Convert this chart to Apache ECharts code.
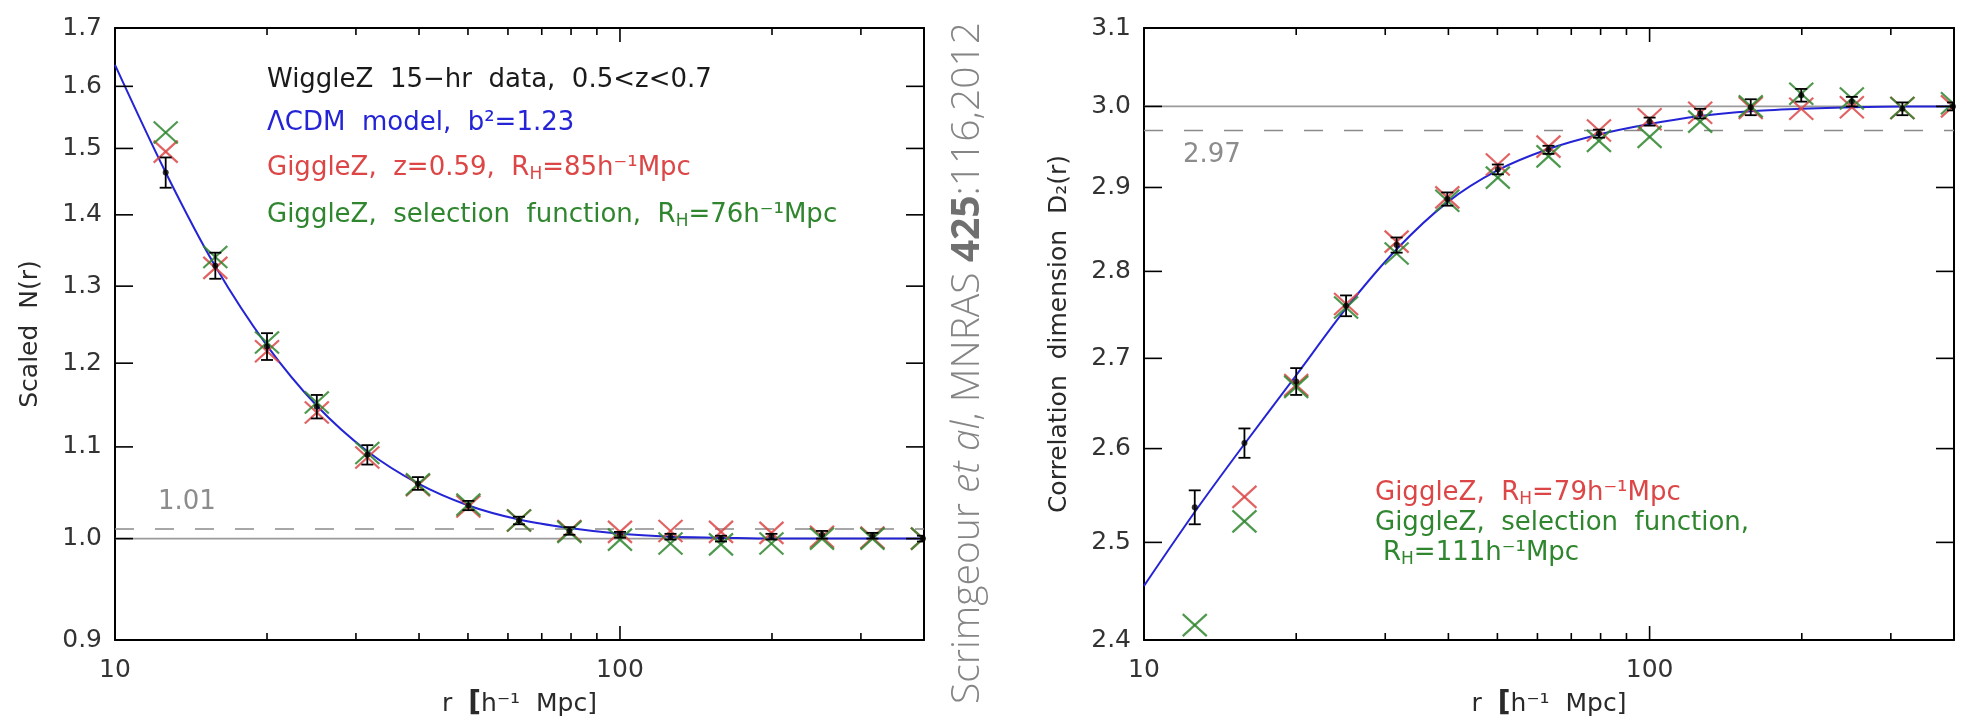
<!DOCTYPE html>
<html><head><meta charset="utf-8">
<script src="https://cdn.jsdelivr.net/npm/echarts@6/dist/echarts.min.js"></script>
<style>html,body{margin:0;padding:0;background:#fff}#c{width:1966px;height:726px}</style>
</head><body><div id="c"></div>
<script>
// ---- data ----
const rVals = [12.6, 15.8, 20.0, 25.1, 31.6, 39.8, 50.1, 63.1, 79.4, 100, 125.9, 158.5, 199.5, 251.2, 316.2, 398.1];
const modelR = [10, 12.6, 15.8, 20.0, 25.1, 31.6, 39.8, 50.1, 63.1, 79.4, 100, 125.9, 158.5, 199.5, 251.2, 316.2, 398.1, 400];

// left panel: scaled N(r)
const leftBlack = [1.463, 1.328, 1.221, 1.147, 1.091, 1.059, 1.035, 1.019, 1.008, 1.004, 1.002, 1.000, 1.002, 1.004, 1.003, 1.000];
const leftErr   = [0.023, 0.018, 0.017, 0.014, 0.011, 0.007, 0.005, 0.004, 0.004, 0.003, 0.003, 0.003, 0.003, 0.004, 0.003, 0.003];
const leftRed   = [1.495, 1.325, 1.215, 1.140, 1.088, 1.057, 1.034, 1.019, 1.008, 1.007, 1.008, 1.007, 1.006, 1.002, 1.001, 1.000];
const leftGreen = [1.525, 1.340, 1.226, 1.152, 1.093, 1.058, 1.036, 1.019, 1.007, 0.999, 0.995, 0.994, 0.995, 1.000, 1.000, 1.000];
const leftModel = [1.636, 1.463, 1.327, 1.222, 1.148, 1.095, 1.059, 1.035, 1.020, 1.011, 1.005, 1.002, 1.001, 1.000, 1.000, 1.000, 1.000, 1.000];
const leftRef = [1.0, 1.01];
const leftTicks = [0.9, 1.0, 1.1, 1.2, 1.3, 1.4, 1.5, 1.6, 1.7];

// right panel: correlation dimension D2(r)
const rightBlack = [2.537, 2.606, 2.674, 2.760, 2.831, 2.886, 2.922, 2.946, 2.966, 2.981, 2.991, 2.999, 3.014, 3.006, 2.997, 3.000];
const rightErr   = [0.018, 0.016, 0.015, 0.012, 0.009, 0.008, 0.006, 0.005, 0.005, 0.005, 0.006, 0.010, 0.008, 0.006, 0.008, 0.005];
const rightRed   = [null, 2.548, 2.670, 2.762, 2.835, 2.888, 2.928, 2.950, 2.970, 2.984, 2.992, 2.998, 2.997, 2.999, 2.998, 3.000];
const rightGreen = [2.415, 2.522, 2.668, 2.758, 2.821, 2.884, 2.912, 2.938, 2.957, 2.962, 2.981, 3.000, 3.016, 3.010, 2.998, 3.004];
const rightModel = [2.455, 2.532, 2.605, 2.681, 2.757, 2.826, 2.882, 2.921, 2.947, 2.965, 2.978, 2.988, 2.994, 2.997, 2.999, 3.000, 3.000, 3.000];
const rightRef = [3.0, 2.97];
const rightTicks = [2.4, 2.5, 2.6, 2.7, 2.8, 2.9, 3.0, 3.1];

const majorX = [10, 100];
const minorX = [20, 30, 40, 50, 60, 70, 80, 90, 200, 300];
const xRange = [10, 400];

// ---- chart ----
const FONT = 'DejaVu Sans';
const RED = '#dc4646', GREEN = '#2f862f', BLUE = '#2424d6';
const chart = echarts.init(document.getElementById('c'), null, {renderer: 'canvas'});

const axLine = {show: true, lineStyle: {color: '#000', width: 2}};
const nameStyle = {fontFamily: FONT, fontSize: 25, color: '#2a2a2a',
  rich: {n: {fontFamily: FONT, fontSize: 25, color: '#2a2a2a'}, b: {fontFamily: FONT, fontSize: 28, fontWeight: 'bold', color: '#2a2a2a'}}};

function xAxes(g) {
  const base = {type: 'log', logBase: 10, min: xRange[0], max: xRange[1], gridIndex: g, splitLine: {show: false}, axisPointer: {show: false}, axisTick: {show: false}};
  return [
    Object.assign({}, base, {position: 'bottom', axisLine: axLine,
      axisLabel: {show: true, customValues: majorX, margin: 18, color: '#333', fontFamily: FONT, fontSize: 25},
      name: '{n|r  }{b|[}{n|h⁻¹  Mpc]}', nameLocation: 'middle', nameGap: 50, nameTextStyle: nameStyle}),
    Object.assign({}, base, {position: 'top', axisLine: axLine, axisLabel: {show: false}})
  ];
}
function yAxes(g, ticks, name) {
  const base = {type: 'log', logBase: 10, min: ticks[0], max: ticks[ticks.length - 1], gridIndex: g, splitLine: {show: false}, axisPointer: {show: false}, axisTick: {show: false}};
  return [
    Object.assign({}, base, {position: 'left', axisLine: axLine,
      axisLabel: {show: true, customValues: ticks, margin: 13, color: '#333', fontFamily: FONT, fontSize: 25, formatter: v => Number(v).toFixed(1)},
      name: name, nameLocation: 'middle', nameGap: 72, nameRotate: 90, nameTextStyle: nameStyle}),
    Object.assign({}, base, {position: 'right', axisLine: axLine, axisLabel: {show: false}})
  ];
}

function pairs(xs, ys) { return xs.map((x, i) => [x, ys[i]]).filter(d => d[1] != null); }

function seg(x1, y1, x2, y2, color, w, op) {
  return {type: 'line', shape: {x1: x1, y1: y1, x2: x2, y2: y2}, style: {stroke: color, lineWidth: w, opacity: op == null ? 1 : op}};
}

// inside tick marks: each tick value is a datum placed inside the plot, its screen position comes from
// the axis scale (api.coord) and the tick is drawn from the grid's edges (params.coordSys)
function xTickSeries(g, yTicks) {
  const yMid = yTicks[Math.floor(yTicks.length / 2)];
  const data = majorX.filter(v => v > xRange[0] && v < xRange[1]).map(v => [v, yMid, 14])
    .concat(minorX.map(v => [v, yMid, 7]));
  return {type: 'custom', xAxisIndex: g * 2, yAxisIndex: g * 2, clip: true, z: 6, data: data,
    renderItem(params, api) {
      const p = api.coord([api.value(0), api.value(1)]);
      const L = api.value(2);
      const cs = params.coordSys;
      const yb = cs.y + cs.height, yt = cs.y;
      return {type: 'group', children: [
        seg(p[0], yb, p[0], yb - L, '#000', 1.6),
        seg(p[0], yt, p[0], yt + L, '#000', 1.6)
      ]};
    }};
}
function yTickSeries(g, yTicks) {
  const xMid = 100;
  const lo = yTicks[0], hi = yTicks[yTicks.length - 1];
  const data = yTicks.filter(v => v > lo && v < hi).map(v => [xMid, v]);
  return {type: 'custom', xAxisIndex: g * 2, yAxisIndex: g * 2, clip: true, z: 6, data: data,
    renderItem(params, api) {
      const p = api.coord([api.value(0), api.value(1)]);
      const cs = params.coordSys;
      const xl = cs.x, xr = cs.x + cs.width;
      return {type: 'group', children: [
        seg(xl, p[1], xl + 18, p[1], '#000', 1.6),
        seg(xr, p[1], xr - 18, p[1], '#000', 1.6)
      ]};
    }};
}

function crossSeries(g, ys, color) {
  return {type: 'custom', xAxisIndex: g * 2, yAxisIndex: g * 2, clip: true, z: 3,
    data: pairs(rVals, ys),
    renderItem(params, api) {
      const p = api.coord([api.value(0), api.value(1)]);
      const sx = 12, sy = 11;
      return {type: 'group', children: [
        seg(p[0] - sx, p[1] - sy, p[0] + sx, p[1] + sy, color, 2.2, 0.85),
        seg(p[0] - sx, p[1] + sy, p[0] + sx, p[1] - sy, color, 2.2, 0.85)
      ]};
    }};
}
function errSeries(g, ys, es) {
  return {type: 'custom', xAxisIndex: g * 2, yAxisIndex: g * 2, clip: true, z: 4,
    data: rVals.map((x, i) => [x, ys[i], es[i]]),
    renderItem(params, api) {
      const x = api.value(0), y = api.value(1), e = api.value(2);
      const top = api.coord([x, y + e]), bot = api.coord([x, y - e]);
      const c = 6;
      return {type: 'group', children: [
        seg(top[0], top[1], bot[0], bot[1], '#000', 1.8),
        seg(top[0] - c, top[1], top[0] + c, top[1], '#000', 1.8),
        seg(bot[0] - c, bot[1], bot[0] + c, bot[1], '#000', 1.8)
      ]};
    }};
}
function panelSeries(g, black, err, red, green, model, ref, yTicks) {
  return [
    {type: 'line', xAxisIndex: g * 2, yAxisIndex: g * 2, data: [[xRange[0], ref[0]], [xRange[1], ref[0]]], showSymbol: false, silent: true, z: 1,
      lineStyle: {color: '#9a9a9a', width: 1.6}},
    {type: 'line', xAxisIndex: g * 2, yAxisIndex: g * 2, data: [[xRange[0], ref[1]], [xRange[1], ref[1]]], showSymbol: false, silent: true, z: 1,
      lineStyle: {color: '#8a8a8a', width: 1.6, type: [19, 21]}},
    {type: 'line', xAxisIndex: g * 2, yAxisIndex: g * 2, data: pairs(modelR, model), showSymbol: false, smooth: 0.3, silent: true, z: 2,
      lineStyle: {color: BLUE, width: 2}},
    crossSeries(g, red, RED),
    crossSeries(g, green, GREEN),
    errSeries(g, black, err),
    {type: 'scatter', xAxisIndex: g * 2, yAxisIndex: g * 2, data: pairs(rVals, black), symbol: 'circle', symbolSize: 6, silent: true, z: 5,
      itemStyle: {color: '#000'}},
    xTickSeries(g, yTicks),
    yTickSeries(g, yTicks)
  ];
}

const AF = 26;
function rich(color) {
  return {
    n: {fontFamily: FONT, fontSize: AF, fill: color, lineHeight: 30},
    s: {fontFamily: FONT, fontSize: 17, fill: color, lineHeight: 30, verticalAlign: 'bottom'}
  };
}
function label(x, y, text, color) {
  return {type: 'text', x: x, y: y, silent: true, z: 10,
    style: {text: text, rich: rich(color), fill: color, font: AF + 'px "DejaVu Sans"', align: 'left', verticalAlign: 'middle'}};
}

const graphics = [
  label(267, 80, '{n|WiggleZ  15−hr  data,  0.5<z<0.7}', '#1a1a1a'),
  label(267, 123, '{n|ΛCDM  model,  b²=1.23}', BLUE),
  label(267, 168, '{n|GiggleZ,  z=0.59,  R}{s|H}{n|=85h⁻¹Mpc}', RED),
  label(267, 215, '{n|GiggleZ,  selection  function,  R}{s|H}{n|=76h⁻¹Mpc}', GREEN),
  label(158, 502, '{n|1.01}', '#8c8c8c'),
  label(1183, 155, '{n|2.97}', '#8c8c8c'),
  label(1375, 493, '{n|GiggleZ,  R}{s|H}{n|=79h⁻¹Mpc}', RED),
  label(1375, 523, '{n|GiggleZ,  selection  function,}', GREEN),
  label(1383, 553, '{n|R}{s|H}{n|=111h⁻¹Mpc}', GREEN),
  {type: 'text', x: 968, y: 363, rotation: Math.PI / 2, silent: true,
    style: {text: '{n|Scrimgeour }{i|et al}{n|, MNRAS }{b|425}{n|:116,2012}', align: 'center', verticalAlign: 'middle',
      font: '39px "Open Sans"', fill: '#858585',
      rich: {
        n: {fontFamily: 'Open Sans', fontSize: 39, fontWeight: 300, fill: '#858585'},
        i: {fontFamily: 'Open Sans', fontSize: 39, fontWeight: 300, fontStyle: 'italic', fill: '#858585'},
        b: {fontFamily: 'Open Sans', fontSize: 39, fontWeight: 'bold', fill: '#707070'}
      }}}
];

chart.setOption({
  backgroundColor: '#fff',
  animation: false,
  grid: [
    {left: 115, right: 1042, top: 28, bottom: 86},
    {left: 1144, right: 12, top: 28, bottom: 86}
  ],
  xAxis: xAxes(0).concat(xAxes(1)),
  yAxis: yAxes(0, leftTicks, 'Scaled  N(r)').concat(yAxes(1, rightTicks, 'Correlation  dimension  D₂(r)')),
  series: panelSeries(0, leftBlack, leftErr, leftRed, leftGreen, leftModel, leftRef, leftTicks)
    .concat(panelSeries(1, rightBlack, rightErr, rightRed, rightGreen, rightModel, rightRef, rightTicks)),
  graphic: graphics
});
</script></body></html>
